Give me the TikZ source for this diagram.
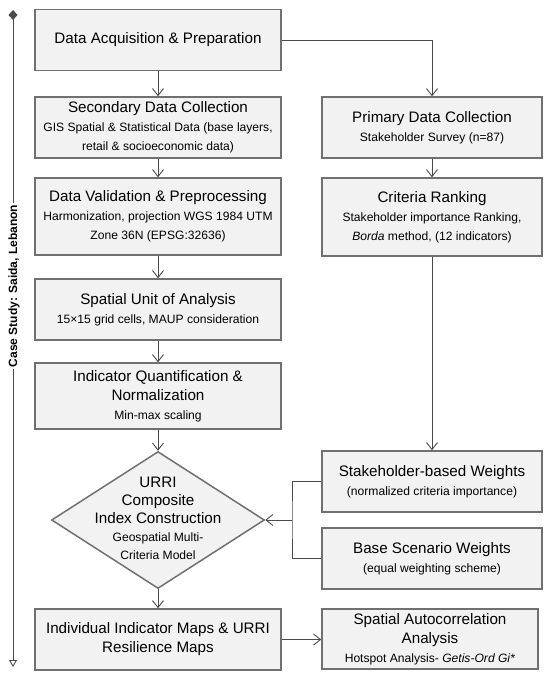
\documentclass[tikz,border=0pt]{standalone}
\usepackage{fontspec}
\setmainfont{Liberation Sans}
\usetikzlibrary{arrows.meta,shapes.geometric}
\definecolor{boxfill}{HTML}{F2F2F2}
\definecolor{boxline}{HTML}{707070}
\definecolor{linec}{HTML}{4A4A4A}
\newcommand{\ttl}[1]{{\fontsize{15.2}{19}\selectfont #1}}
\begin{document}
\begin{tikzpicture}[x=1pt,y=-1pt,
  box/.style={draw=boxline, line width=1.5pt, fill=boxfill, minimum width=246pt, align=center, inner sep=0pt, font=\fontsize{12.1}{19}\selectfont},
  rbox/.style={box, minimum width=220pt},
  arr/.style={draw=linec, line width=0.9pt, -{Straight Barb[length=7pt,width=11pt]}},
  plain/.style={draw=linec, line width=0.9pt},
]
\useasboundingbox (0,0) rectangle (550,677);
% left column
\node[box, minimum height=61pt] (acq) at (158,40) {\ttl{Data Acquisition \& Preparation}};
\node[box, minimum height=61pt] (sec) at (158,127.5) {\ttl{Secondary Data Collection}\\GIS Spatial \& Statistical Data (base layers,\\retail \& socioeconomic data)};
\node[box, minimum height=77pt] (val) at (158,216.5) {\ttl{Data Validation \& Preprocessing}\\Harmonization, projection WGS 1984 UTM\\Zone 36N (EPSG:32636)};
\node[box, minimum height=61pt] (unit) at (158,309.5) {\ttl{Spatial Unit of Analysis}\\15×15 grid cells, MAUP consideration};
\node[box, minimum height=66pt] (quant) at (158,396) {\ttl{Indicator Quantification \&}\\\ttl{Normalization}\\Min-max scaling};
\node[diamond, draw=boxline, line width=1.5pt, fill=boxfill, minimum width=213pt, minimum height=137pt, inner sep=0pt] (urri) at (158,520) {};
\node[align=center, font=\fontsize{12.1}{18}\selectfont] (urritxt) at (158,518) {{\fontsize{15.2}{18}\selectfont URRI}\\{\fontsize{15.2}{18}\selectfont Composite}\\{\fontsize{15.2}{18}\selectfont Index Construction}\\Geospatial Multi-\\Criteria Model};
\node[box, minimum height=61pt] (ind) at (158,639.5) {\ttl{Individual Indicator Maps \& URRI}\\\ttl{Resilience Maps}};
% right column
\node[rbox, minimum height=61pt] (prim) at (432,127.5) {\ttl{Primary Data Collection}\\Stakeholder Survey (n=87)};
\node[rbox, minimum height=78pt] (crit) at (432,217) {\ttl{Criteria Ranking}\\Stakeholder importance Ranking,\\\textit{Borda} method, (12 indicators)};
\node[rbox, minimum height=61pt] (stw) at (432,481.5) {\ttl{Stakeholder-based Weights}\\(normalized criteria importance)};
\node[rbox, minimum height=61pt] (base) at (432,558.5) {\ttl{Base Scenario Weights}\\(equal weighting scheme)};
\node[rbox, minimum width=216pt, minimum height=60pt] (sac) at (430,639) {\ttl{Spatial Autocorrelation}\\\ttl{Analysis}\\Hotspot Analysis- \textit{Getis-Ord Gi*}};
% connectors
\draw[arr] (acq.south) -- (sec.north);
\draw[arr] (sec.south) -- (val.north);
\draw[arr] (val.south) -- (unit.north);
\draw[arr] (unit.south) -- (quant.north);
\draw[arr] (quant.south) -- (urri.north);
\draw[arr] (urri.south) -- (ind.north);
\draw[arr] (acq.east) -| (prim.north);
\draw[arr] (prim.south) -- (crit.north);
\draw[arr] (crit.south) -- (stw.north);
\coordinate (br) at (292,520);
\draw[plain] (stw.west) -| (br) |- (base.west);
\draw[arr] (br) -- (urri.east);
\draw[arr] (ind.east) -- (ind.east -| sac.west);
% case study side line
\coordinate (ctop) at (13,10);
\coordinate (cbot) at (13,667);
\draw[plain, {Diamond[length=10pt,width=9pt]}-{Triangle[open,length=7pt,width=8pt]}] (ctop) -- (cbot);
\node[rotate=90, fill=white, font=\bfseries\fontsize{12}{14}\selectfont, inner sep=2pt] (case) at (14,286) {Case Study: Saida, Lebanon};
\end{tikzpicture}
\end{document}
